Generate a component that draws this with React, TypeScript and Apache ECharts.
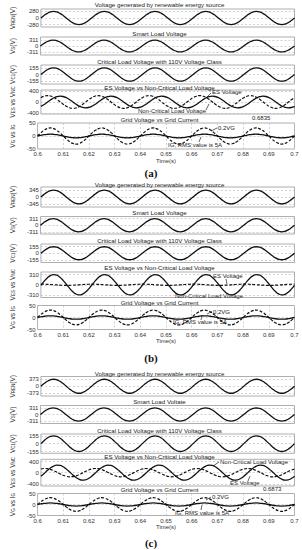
import React, { useEffect, useRef } from "react";
import * as echarts from "echarts";

// ---------- data (one 50 Hz cycle, 16 samples each) ----------
const T_START = 0.6;
const SAMPLE_STEP = 0.00125;
const CYCLES = 5;

const VREN_A = [0, 107, 198, 259, 280, 259, 198, 107, 0, -107, -198, -259, -280, -259, -198, -107];
const VREN_B = [0, 132, 244, 319, 345, 319, 244, 132, 0, -132, -244, -319, -345, -319, -244, -132];
const VREN_C = [0, 143, 264, 345, 373, 345, 264, 143, 0, -143, -264, -345, -373, -345, -264, -143];
const VS_CYCLE = [0, 119, 220, 287, 311, 287, 220, 119, 0, -119, -220, -287, -311, -287, -220, -119];
const VC1_CYCLE = [0, 59, 110, 143, 155, 143, 110, 59, 0, -59, -110, -143, -155, -143, -110, -59];

const NC_A = [-155, -89, -9, 72, 142, 190, 210, 197, 155, 89, 9, -72, -142, -190, -210, -197];
const ES_A = [155, 207, 229, 215, 169, 97, 10, -78, -155, -207, -229, -215, -169, -97, -10, 78];
const NC_B = [-16, 104, 207, 280, 310, 292, 230, 134, 16, -104, -207, -280, -310, -292, -230, -134];
const ES_B = [18, 17, 13, 8, 1, -6, -12, -16, -18, -17, -13, -8, -1, 6, 12, 16];
const NC_C = [-131, -31, 74, 168, 236, 268, 259, 211, 131, 31, -74, -168, -236, -268, -259, -211];
const ES_C = [131, 149, 144, 117, 73, 17, -41, -93, -131, -149, -144, -117, -73, -17, 41, 93];

const VG02_CYCLE = [0, 11.9, 21.9, 28.6, 31, 28.6, 21.9, 11.9, 0, -11.9, -21.9, -28.6, -31, -28.6, -21.9, -11.9];
const IG_CYCLE = [0, 2.7, 5, 6.5, 7.1, 6.5, 5, 2.7, 0, -2.7, -5, -6.5, -7.1, -6.5, -5, -2.7];

const TITLES = [
  "Voltage generated by renewable energy source",
  "Smart Load Voltage",
  "Critical Load Voltage with 110V Voltage Class",
  "ES Voltage vs Non-Critical Load Voltage",
  "Grid Voltage vs Grid Current",
];
const TITLES_C = [
  "Voltage generated by renewable energy source",
  "Smart Load Voltate",
  "Critical Load Voltage with 110V Voltage Class",
  "ES Voltage vs Non-Critical Load Voltage",
  "Grid Voltage vs Grid Current",
];
const Y_NAMES = ["V{s|REN}(V)", "V{s|S}(V)", "V{s|C1}(V)", "V{s|ES} vs V{s|NC}", "V{s|G} vs I{s|G}"];

const TICKS_A = [[280, 0, -280], [311, 0, -311], [155, 0, -155], [400, 0, -400], [50, 0, -50]];
const TICKS_B = [[345, 0, -345], [311, 0, -311], [155, 0, -155], [310, 0, -310], [50, 0, -50]];
const TICKS_C = [[373, 0, -373], [311, 0, -311], [155, 0, -155], [400, 0, -400], [50, 0, -50]];

const PANEL_LABELS = ["(a)", "(b)", "(c)"];
const DATATIPS = ["0.6835", "", "0.6873"];
const ANNOT_ES = "ES Voltage";
const ANNOT_NC = "Non-Critical Load Voltage";
const ANNOT_VG = "0.2VG";
const ANNOT_IG = "IG, RMS value is 5A";

// ---------- layout (positions / sizes) ----------
const LAYOUT = [
  { grids: [[9, 18, 380], [37, 18, 470], [65, 19, 220], [90, 24, 430], [123, 26, 50]], titleY: [4.5, 33, 61, 87, 119], labelY: 173 },
  { grids: [[187, 20, 500], [216.5, 17.5, 415], [244, 18.5, 220], [272, 25.5, 390], [305.5, 24, 50]], titleY: [184.3, 212.7, 240, 267.7, 302], labelY: 358 },
  { grids: [[376.5, 19.5, 520], [405.5, 18, 420], [434, 19.3, 190], [459.3, 26.7, 480], [493.5, 22, 50]], titleY: [373.3, 401.7, 430, 456, 489.3], labelY: 543 },
];
const LEFT = 24.5;
const RIGHT = 7.5;
const FONT = "'Liberation Sans', Arial, sans-serif";

function buildSeriesData(cycle: number[]): [number, number][] {
  const pts: [number, number][] = [];
  const n = cycle.length * CYCLES;
  for (let i = 0; i <= n; i++) {
    pts.push([Number((T_START + i * SAMPLE_STEP).toFixed(5)), cycle[i % cycle.length]]);
  }
  return pts;
}

type Line = { cycle: number[]; dashed?: boolean };

const PANEL_LINES: Line[][][] = [
  [[{ cycle: VREN_A }], [{ cycle: VS_CYCLE }], [{ cycle: VC1_CYCLE }], [{ cycle: NC_A }, { cycle: ES_A, dashed: true }], [{ cycle: IG_CYCLE }, { cycle: VG02_CYCLE, dashed: true }]],
  [[{ cycle: VREN_B }], [{ cycle: VS_CYCLE }], [{ cycle: VC1_CYCLE }], [{ cycle: NC_B }, { cycle: ES_B, dashed: true }], [{ cycle: IG_CYCLE }, { cycle: VG02_CYCLE, dashed: true }]],
  [[{ cycle: VREN_C }], [{ cycle: VS_CYCLE }], [{ cycle: VC1_CYCLE }], [{ cycle: NC_C }, { cycle: ES_C, dashed: true }], [{ cycle: IG_CYCLE }, { cycle: VG02_CYCLE, dashed: true }]],
];
const PANEL_TICKS = [TICKS_A, TICKS_B, TICKS_C];
const PANEL_TITLES = [TITLES, TITLES, TITLES_C];

function buildOption() {
  const grids: any[] = [];
  const xAxes: any[] = [];
  const yAxes: any[] = [];
  const series: any[] = [];
  const elements: any[] = [];
  const gridLineStyle = { type: [2, 2], color: "#bdbdbd", width: 0.7 };

  const text = (t: string, x: number, y: number, size = 6, align = "left", extra: any = {}) => ({
    type: "text",
    x,
    y,
    silent: true,
    style: {
      text: t,
      fontSize: size,
      fontFamily: FONT,
      fill: "#222",
      align,
      verticalAlign: "middle",
      textAlign: align,
      textVerticalAlign: "middle",
      ...extra,
    },
  });
  const arrow = (x1: number, y1: number, x2: number, y2: number) => ({
    type: "line",
    silent: true,
    shape: { x1, y1, x2, y2 },
    style: { stroke: "#222", lineWidth: 0.7 },
  });

  for (let p = 0; p < 3; p++) {
    const lay = LAYOUT[p];
    for (let s = 0; s < 5; s++) {
      const g = p * 5 + s;
      const [top, height, range] = lay.grids[s];
      const ticks = PANEL_TICKS[p][s];
      const isLast = s === 4;
      grids.push({ left: LEFT, right: RIGHT, top, height, show: true, borderColor: "#9a9a9a", borderWidth: 0.8, backgroundColor: "#fff" });
      xAxes.push({
        type: "value",
        gridIndex: g,
        min: 0.6,
        max: 0.7,
        interval: 0.01,
        axisLine: { show: false },
        axisTick: { show: false },
        axisLabel: {
          show: isLast,
          fontSize: 6,
          color: "#333",
          margin: 2,
          fontFamily: FONT,
          formatter: (v: number) => String(Number(v.toFixed(2))),
        },
        splitLine: { show: isLast, lineStyle: gridLineStyle },
        name: isLast ? "Time(s)" : "",
        nameLocation: "middle",
        nameGap: 8,
        nameTextStyle: { fontSize: 6, color: "#333", fontFamily: FONT },
      });
      yAxes.push({
        type: "value",
        gridIndex: g,
        min: -range,
        max: range,
        axisLine: { show: false },
        axisTick: { show: false },
        splitLine: { show: false },
        axisLabel: { fontSize: 6, color: "#333", margin: 2, fontFamily: FONT, customValues: ticks },
        name: Y_NAMES[s],
        nameLocation: "middle",
        nameRotate: 90,
        nameGap: 13,
        nameTextStyle: {
          fontSize: 6.5,
          color: "#333",
          fontFamily: FONT,
          lineHeight: 8,
          rich: {
            s: { fontSize: 4.5, fontFamily: FONT, color: "#333", verticalAlign: "bottom", lineHeight: 8 },
          },
        },
      });
      const lines = PANEL_LINES[p][s];
      lines.forEach((ln, li) => {
        series.push({
          type: "line",
          xAxisIndex: g,
          yAxisIndex: g,
          data: buildSeriesData(ln.cycle),
          smooth: true,
          showSymbol: false,
          symbol: "none",
          silent: true,
          z: 3,
          lineStyle: { color: "#111", width: ln.dashed ? 1.2 : 1.3, type: ln.dashed ? [3, 1.6] : "solid" },
          markLine:
            li === 0
              ? {
                  silent: true,
                  symbol: ["none", "none"],
                  z: 1,
                  label: { show: false },
                  lineStyle: { ...gridLineStyle },
                  data: (isLast ? [0] : ticks).map((v) => ({ yAxis: v })),
                }
              : undefined,
        });
      });
      elements.push(text(PANEL_TITLES[p][s], LEFT + (302 - LEFT - RIGHT) / 2, lay.titleY[s], 6.2, "center"));
    }
    elements.push(text(PANEL_LABELS[p], 151, lay.labelY, 11, "center", { fontFamily: "'Liberation Serif', 'DejaVu Serif', serif", fontWeight: "bold", fill: "#111" }));
    if (DATATIPS[p]) {
      elements.push(text(DATATIPS[p], p === 0 ? 252 : 263, p === 0 ? 118 : 489.3, 6, "left"));
    }
  }

  // annotations (a)
  elements.push(text(ANNOT_ES, 212, 92, 6));
  elements.push(arrow(211, 93, 206, 98));
  elements.push(text(ANNOT_NC, 206, 111, 6, "right"));
  elements.push(arrow(206, 110, 209, 104));
  elements.push(text(ANNOT_VG, 218, 128, 6));
  elements.push(arrow(217, 128, 211, 131));
  elements.push(text(ANNOT_IG, 168, 145, 6));
  elements.push(arrow(199, 142, 201, 137));
  // annotations (b)
  elements.push(text(ANNOT_ES, 213, 276, 6));
  elements.push(arrow(226, 279, 227, 284));
  elements.push(text(ANNOT_NC, 175, 296, 6));
  elements.push(arrow(178, 295, 172, 290));
  elements.push(text(ANNOT_VG, 213, 311.7, 6));
  elements.push(arrow(212, 311.5, 207, 314));
  elements.push(text(ANNOT_IG, 173, 322, 6));
  elements.push(arrow(201, 320, 202, 315));
  // annotations (c)
  elements.push(text(ANNOT_NC, 220, 462, 6));
  elements.push(arrow(219, 462, 213, 466));
  elements.push(text(ANNOT_ES, 230, 483, 6));
  elements.push(arrow(248, 481, 250, 476));
  elements.push(text(ANNOT_VG, 212, 496.7, 6));
  elements.push(arrow(211, 497, 206, 500));
  elements.push(text(ANNOT_IG, 175, 513, 6));
  elements.push(arrow(201, 510, 202, 505));

  return {
    animation: false,
    backgroundColor: "#fff",
    grid: grids,
    xAxis: xAxes,
    yAxis: yAxes,
    series,
    graphic: { elements },
  };
}

export default function App() {
  const ref = useRef<HTMLDivElement>(null);
  useEffect(() => {
    document.body.style.margin = "0";
    if (!ref.current) return;
    const chart = echarts.init(ref.current, undefined, { renderer: "svg" });
    chart.setOption(buildOption() as any);
    return () => chart.dispose();
  }, []);
  return <div ref={ref} style={{ width: 302, height: 550 }} />;
}
